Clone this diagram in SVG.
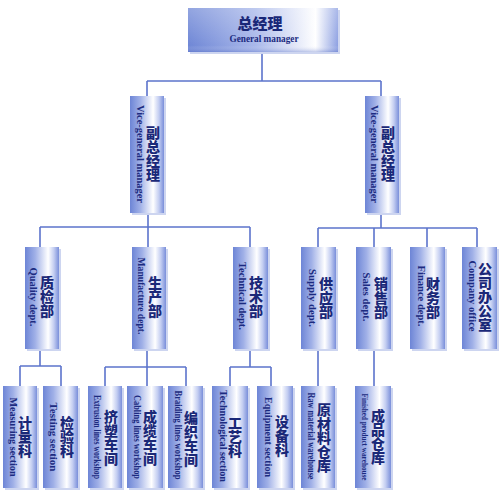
<svg xmlns="http://www.w3.org/2000/svg" width="499" height="500" viewBox="0 0 499 500">
<defs>
<linearGradient id="cyl" x1="0" y1="0" x2="1" y2="0">
<stop offset="0" stop-color="#6d85d6"/>
<stop offset="0.3" stop-color="#a0b0e7"/>
<stop offset="0.68" stop-color="#ffffff"/>
<stop offset="0.85" stop-color="#c3cdf1"/>
<stop offset="1" stop-color="#7a8fda"/>
</linearGradient>
<linearGradient id="top" x1="0" y1="0" x2="1" y2="0">
<stop offset="0" stop-color="#6f87d6"/>
<stop offset="0.45" stop-color="#a9b8ea"/>
<stop offset="0.85" stop-color="#ffffff"/>
<stop offset="1" stop-color="#8ea1e2"/>
</linearGradient>
<linearGradient id="topv" x1="0" y1="0" x2="0" y2="1">
<stop offset="0" stop-color="#ffffff" stop-opacity="0.25"/>
<stop offset="0.85" stop-color="#ffffff" stop-opacity="0"/>
<stop offset="1" stop-color="#4e67c2" stop-opacity="0.35"/>
</linearGradient>
</defs>
<style>
.box{fill:url(#cyl)}
.sh{fill:#cdd5f0}
.zh{font-family:"Noto Sans CJK SC","Noto Sans",sans-serif;font-weight:900;font-size:14px;fill:#1a2878;writing-mode:vertical-rl;text-anchor:middle}
.en{font-family:"Liberation Serif","DejaVu Serif",serif;font-weight:bold;font-size:11px;fill:#1c2b80;text-anchor:middle;dominant-baseline:central}
.sm{font-size:9.5px}
.xs{font-size:8.5px}
.ln{fill:none;stroke:#5c74cc;stroke-width:1.6}
</style>
<rect width="499" height="500" fill="#ffffff"/>
<g id="connectors" class="ln">
<path d="M262,53V81M147,81H381M147,81V96M381,81V96"/>
<path d="M148,213V227M40,227H250M40,227V247M148,227V247M250,227V247"/>
<path d="M381,213V228M318,228H477M318,228V247M374,228V247M427,228V247M477,228V247"/>
<path d="M40,349V366M20,366H61M20,366V386M61,366V386"/>
<path d="M147,349V367M105,367H186M105,367V386M147,367V386M186,367V386"/>
<path d="M250,349V367M230,367H271M230,367V386M271,367V386"/>
<path d="M318,349V386M374,349V386"/>
</g>
<g id="gm">
<rect x="190" y="10" width="150" height="44" class="sh"/>
<rect x="188" y="8" width="150" height="44" fill="url(#top)"/>
<rect x="188" y="8" width="150" height="44" fill="url(#topv)"/>
<text x="260" y="29" font-family="Noto Sans CJK SC,sans-serif" font-weight="900" font-size="15" fill="#1a2878" text-anchor="middle">总经理</text>
<text x="264" y="42" font-family="Liberation Serif,serif" font-size="11" font-weight="bold" fill="#1c2b80" text-anchor="middle" textLength="69" lengthAdjust="spacingAndGlyphs">General manager</text>
</g>
<g id="vgm1">
<rect x="132" y="98" width="34" height="117" class="sh"/>
<rect x="130" y="96" width="34" height="117" class="box"/>
<text class="en" transform="translate(141,154) rotate(90)" textLength="98" lengthAdjust="spacingAndGlyphs">Vice-general manager</text>
<text class="zh" x="153" y="154">副总经理</text>
</g>
<g id="vgm2">
<rect x="367" y="98" width="34" height="117" class="sh"/>
<rect x="365" y="96" width="34" height="117" class="box"/>
<text class="en" transform="translate(375,154) rotate(90)" textLength="98" lengthAdjust="spacingAndGlyphs">Vice-general manager</text>
<text class="zh" x="388" y="154">副总经理</text>
</g>
<g id="quality">
<rect x="27" y="249" width="34" height="102" class="sh"/>
<rect x="25" y="247" width="34" height="102" class="box"/>
<text class="en" transform="translate(34,297) rotate(90)" textLength="59" lengthAdjust="spacingAndGlyphs">Quality dept.</text>
<text class="zh" x="47" y="297">质检部</text>
</g>
<g id="manufacture">
<rect x="134" y="249" width="34" height="102" class="sh"/>
<rect x="132" y="247" width="34" height="102" class="box"/>
<text class="en" transform="translate(142,296) rotate(90)" textLength="77" lengthAdjust="spacingAndGlyphs">Manufacture dept.</text>
<text class="zh" x="155" y="297">生产部</text>
</g>
<g id="technical">
<rect x="235" y="249" width="35" height="102" class="sh"/>
<rect x="233" y="247" width="35" height="102" class="box"/>
<text class="en" transform="translate(243,296) rotate(90)" textLength="68" lengthAdjust="spacingAndGlyphs">Technical dept.</text>
<text class="zh" x="256" y="297">技术部</text>
</g>
<g id="supply">
<rect x="303" y="249" width="35" height="102" class="sh"/>
<rect x="301" y="247" width="35" height="102" class="box"/>
<text class="en" transform="translate(313,298) rotate(90)" textLength="58" lengthAdjust="spacingAndGlyphs">Supply dept.</text>
<text class="zh" x="326" y="298">供应部</text>
</g>
<g id="sales">
<rect x="358" y="249" width="35" height="102" class="sh"/>
<rect x="356" y="247" width="35" height="102" class="box"/>
<text class="en" transform="translate(367,297) rotate(90)" textLength="49" lengthAdjust="spacingAndGlyphs">Sales dept.</text>
<text class="zh" x="381" y="298">销售部</text>
</g>
<g id="finance">
<rect x="412" y="249" width="35" height="102" class="sh"/>
<rect x="410" y="247" width="35" height="102" class="box"/>
<text class="en" transform="translate(422,296) rotate(90)" textLength="61" lengthAdjust="spacingAndGlyphs">Finance dept.</text>
<text class="zh" x="433" y="298">财务部</text>
</g>
<g id="office">
<rect x="464" y="249" width="35" height="102" class="sh"/>
<rect x="462" y="247" width="35" height="102" class="box"/>
<text class="en" transform="translate(473,296) rotate(90)" textLength="71" lengthAdjust="spacingAndGlyphs">Company office</text>
<text class="zh" x="485" y="297">公司办公室</text>
</g>
<g id="measuring">
<rect x="5" y="388" width="34" height="102" class="sh"/>
<rect x="3" y="386" width="34" height="102" class="box"/>
<text class="en sm" transform="translate(13,437) rotate(90)" textLength="79" lengthAdjust="spacingAndGlyphs">Measuring section</text>
<text class="zh" x="25" y="437">计量科</text>
</g>
<g id="testing">
<rect x="45" y="388" width="35" height="102" class="sh"/>
<rect x="43" y="386" width="35" height="102" class="box"/>
<text class="en sm" transform="translate(53,437) rotate(90)" textLength="69" lengthAdjust="spacingAndGlyphs">Testing section</text>
<text class="zh" x="67" y="437">检验科</text>
</g>
<g id="extrusion">
<rect x="90" y="388" width="34" height="102" class="sh"/>
<rect x="88" y="386" width="34" height="102" class="box"/>
<text class="en sm" transform="translate(97,437) rotate(90)" textLength="84" lengthAdjust="spacingAndGlyphs">Extrusion lines workshop</text>
<text class="zh" x="111" y="438">挤塑车间</text>
</g>
<g id="cabling">
<rect x="129" y="388" width="36" height="102" class="sh"/>
<rect x="127" y="386" width="36" height="102" class="box"/>
<text class="en sm" transform="translate(137,437) rotate(90)" textLength="84" lengthAdjust="spacingAndGlyphs">Cabling lines workshop</text>
<text class="zh" x="150" y="438">成缆车间</text>
</g>
<g id="braiding">
<rect x="170" y="388" width="35" height="102" class="sh"/>
<rect x="168" y="386" width="35" height="102" class="box"/>
<text class="en sm" transform="translate(178,435) rotate(90)" textLength="89" lengthAdjust="spacingAndGlyphs">Braiding lines workshop</text>
<text class="zh" x="191" y="439">编织车间</text>
</g>
<g id="technological">
<rect x="214" y="388" width="36" height="102" class="sh"/>
<rect x="212" y="386" width="36" height="102" class="box"/>
<text class="en sm" transform="translate(223,436) rotate(90)" textLength="92" lengthAdjust="spacingAndGlyphs">Technological section</text>
<text class="zh" x="235" y="437">工艺科</text>
</g>
<g id="equipment">
<rect x="259" y="388" width="36" height="102" class="sh"/>
<rect x="257" y="386" width="36" height="102" class="box"/>
<text class="en sm" transform="translate(268,437) rotate(90)" textLength="80" lengthAdjust="spacingAndGlyphs">Equipment section</text>
<text class="zh" x="282" y="436">设备科</text>
</g>
<g id="raw">
<rect x="303" y="388" width="34" height="102" class="sh"/>
<rect x="301" y="386" width="34" height="102" class="box"/>
<text class="en sm" transform="translate(311,436) rotate(90)" textLength="87" lengthAdjust="spacingAndGlyphs">Raw material warehouse</text>
<text class="zh" x="324" y="438">原材料仓库</text>
</g>
<g id="finished">
<rect x="357" y="388" width="36" height="102" class="sh"/>
<rect x="355" y="386" width="36" height="102" class="box"/>
<text class="en xs" transform="translate(365,437) rotate(90)" textLength="87" lengthAdjust="spacingAndGlyphs">Finished product warehouse</text>
<text class="zh" x="378" y="437">成品仓库</text>
</g>
</svg>
